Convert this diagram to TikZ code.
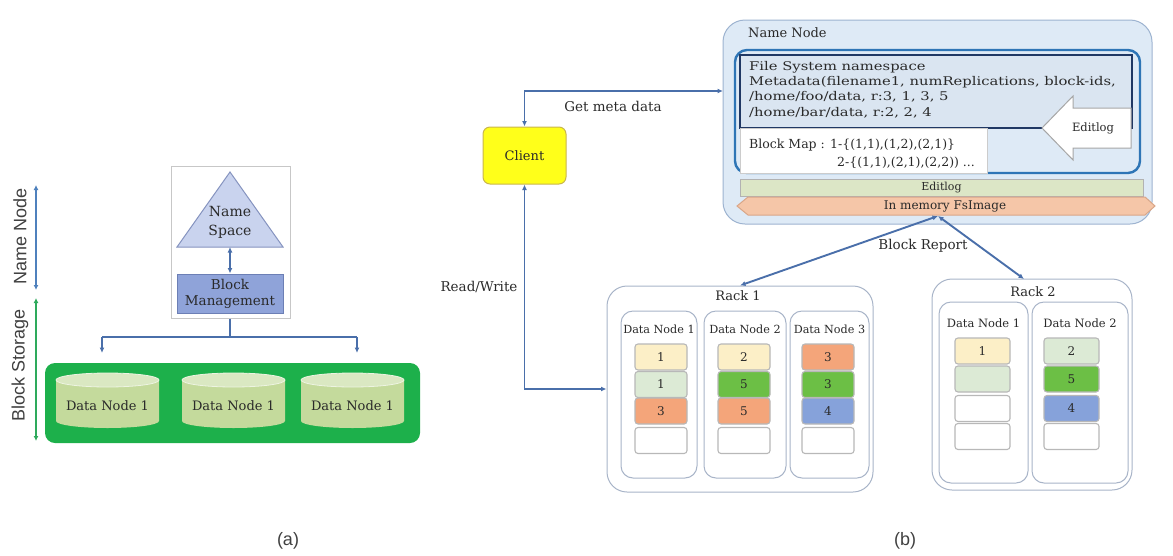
\documentclass[tikz,border=0pt]{standalone}
\usepackage{fontspec}
\setmainfont{DejaVu Serif}
\setsansfont{Liberation Sans}
\newfontfamily\widefont{DejaVu Serif}[FakeStretch=1.23]
\usetikzlibrary{arrows.meta,calc}

\definecolor{connblue}{HTML}{4A6FAA}
\definecolor{axisblue}{HTML}{4F81BD}
\definecolor{axisgreen}{HTML}{2EAA5C}
\definecolor{storegreen}{HTML}{1DB04B}
\definecolor{cylbody}{HTML}{C4DA9C}
\definecolor{cyltop}{HTML}{DAE8C2}
\definecolor{trifill}{HTML}{C9D3EE}
\definecolor{triedge}{HTML}{8593BF}
\definecolor{bmfill}{HTML}{8FA3D9}
\definecolor{bmedge}{HTML}{6C7FB5}
\definecolor{nnfill}{HTML}{DEEAF6}
\definecolor{nnedge}{HTML}{9DB3D0}
\definecolor{framebl}{HTML}{2E75B6}
\definecolor{fsnavy}{HTML}{203864}
\definecolor{fsfill}{HTML}{DAE5F1}
\definecolor{elogfill}{HTML}{DCE6C6}
\definecolor{imgfill}{HTML}{F5C6A8}
\definecolor{imgedge}{HTML}{D9A688}
\definecolor{clientyel}{HTML}{FFFF1A}
\definecolor{clientedge}{HTML}{C9B64C}
\definecolor{rackedge}{HTML}{A8B4C8}
\definecolor{inkgray}{HTML}{2A2A2A}
\definecolor{cYel}{HTML}{FCEFC7}
\definecolor{cLgr}{HTML}{DCEAD5}
\definecolor{cOrg}{HTML}{F4A57A}
\definecolor{cGrn}{HTML}{6CBF45}
\definecolor{cBlu}{HTML}{86A2DA}

\tikzset{
  every node/.style={text=inkgray},
  conn/.style={draw=connblue, line width=1.9pt,
    arrows={-}, >={Latex[length=5.5pt,width=5pt]}},
  txt/.style={inner sep=0pt, font=\fontsize{13.5}{15}\selectfont},
  axislbl/.style={inner sep=0pt, rotate=90, font=\sffamily\fontsize{18}{20}\selectfont, text=black!75},
  cyltext/.style={inner sep=0pt, font=\fontsize{13}{15}\selectfont},
  rackbox/.style={draw=rackedge, line width=1pt, rounded corners=20pt, fill=white},
  dnbox/.style={draw=rackedge, line width=1pt, rounded corners=12pt, fill=white},
  blk/.style={draw=black!28, line width=1.1pt, rounded corners=3pt,
    minimum width=#1, minimum height=26pt, inner sep=0pt,
    font=\fontsize{12}{14}\selectfont},
  blk/.default=52pt,
}

\begin{document}
\begin{tikzpicture}[x=1pt,y=-1pt]
\useasboundingbox (0,0) rectangle (1173,555);

% ---------------- (a) layered view ----------------
% side axes
\draw[draw=axisblue, line width=1.8pt, {Latex[length=5pt,width=5pt]}-{Latex[length=5pt,width=5pt]}]
  (36,185) -- (36,290);
\draw[draw=axisgreen, line width=1.8pt, {Latex[length=5pt,width=5pt]}-{Latex[length=5pt,width=5pt]}]
  (36,298) -- (36,441);
\node[axislbl] (lblnn) at (20,236) {Name Node};
\node[axislbl] (lblbs) at (20,365) {Block Storage};

% name node frame with namespace and block management
\node[draw=black!22, line width=1pt, fill=white, minimum width=119pt, minimum height=152pt,
  inner sep=0pt] (nsbox) at (231,242) {};
\path[draw=triedge, line width=1pt, fill=trifill] (230,172) -- (283,247) -- (177,247) -- cycle;
\coordinate (tribase) at (230,247);
\node[inner sep=0pt, align=center, font=\fontsize{14}{19}\selectfont] (nstext) at (230,222) {Name\\Space};
\node[draw=bmedge, line width=1pt, fill=bmfill, minimum width=106pt, minimum height=39pt,
  inner sep=0pt, align=center, font=\fontsize{13.5}{16}\selectfont] (bm) at (230,293.5)
  {Block\\Management};
\draw[conn, <->] (tribase) -- (bm.north);

% fan-out to the storage layer
\coordinate (split) at (230,337);
\coordinate (fanl) at (102,337);
\coordinate (fanr) at (357,337);
\coordinate (tipl) at (102,353);
\coordinate (tipr) at (357,353);
\draw[conn] (nsbox.south -| split) -- (split);
\draw[conn] (fanl) -- (fanr);
\draw[conn, ->] (fanl) -- (tipl);
\draw[conn, ->] (fanr) -- (tipr);

% storage layer
\node[fill=storegreen, rounded corners=10pt, minimum width=375pt, minimum height=80pt,
  inner sep=0pt] (store) at (232.5,403) {};
\foreach \cx/\nm in {107.5/cylA, 233.5/cylB, 352.5/cylC}{
  \fill[cylbody] (\cx-51.5,380) -- (\cx-51.5,421)
    arc[start angle=180, end angle=0, x radius=51.5, y radius=7] -- (\cx+51.5,380) -- cycle;
  \fill[cyltop] (\cx,380) ellipse[x radius=51.5, y radius=7];
  \draw[white!70!cylbody, line width=0.8pt] (\cx,380) ellipse[x radius=51.5, y radius=7];
  \node[cyltext] (\nm) at (\cx,406) {Data Node 1};
}

\node[inner sep=0pt, font=\sffamily\fontsize{18}{20}\selectfont, text=black!75] (capa) at (288,541) {(a)};

% ---------------- (b) HDFS architecture ----------------
% name node
\node[draw=nnedge, line width=1pt, fill=nnfill, rounded corners=22pt,
  minimum width=429pt, minimum height=204pt, inner sep=0pt] (nn) at (937.5,122) {};
\node[inner sep=0pt, anchor=west, font=\fontsize{13}{15}\selectfont] (nntitle) at (748,33) {Name Node};

\node[draw=framebl, line width=2.4pt, fill=nnfill, rounded corners=12pt,
  minimum width=405pt, minimum height=123pt, inner sep=0pt] (fsframe) at (937.5,111.5) {};
\node[draw=fsnavy, line width=1.3pt, fill=fsfill, minimum width=392pt, minimum height=73pt,
  inner sep=0pt] (fsbox) at (936,91.5) {};
\node[inner sep=0pt, anchor=north west, align=left, font=\widefont\fontsize{12}{15.3}\selectfont]
  (fstext) at (749,61)
  {File System namespace\\
   Metadata(filename1, numReplications, block-ids,\\
   /home/foo/data, r:3, 1, 3, 5\\
   /home/bar/data, r:2, 2, 4};
\node[draw=black!20, line width=0.8pt, fill=white, minimum width=247pt, minimum height=45pt,
  inner sep=0pt] (bmap) at (863.5,150.5) {};
\node[inner sep=0pt, anchor=west, font=\fontsize{12.5}{15}\selectfont] (bmapa) at (749,145)
  {Block Map : 1-\{(1,1),(1,2),(2,1)\}};
\node[inner sep=0pt, anchor=west, font=\fontsize{12.5}{15}\selectfont] (bmapb) at (837,163)
  {2-\{(1,1),(2,1),(2,2)) ...};

% incoming edit log arrow
\path[draw=black!35, line width=1pt, fill=white]
  (1042,128) -- (1073,96) -- (1073,108) -- (1131,108) -- (1131,148)
  -- (1073,148) -- (1073,160) -- cycle;
\node[inner sep=0pt, font=\fontsize{11.5}{13}\selectfont] (elogin) at (1093,128) {Editlog};

% edit log and fsimage bars
\node[draw=black!30, line width=1pt, fill=elogfill, minimum width=403pt, minimum height=17pt,
  inner sep=0pt, font=\fontsize{11}{13}\selectfont] (elog) at (941.5,188) {Editlog};
\path[draw=imgedge, line width=1pt, fill=imgfill]
  (737,206) -- (748,197) -- (1145,197) -- (1155,206) -- (1145,215) -- (748,215) -- cycle;
\node[inner sep=0pt, font=\fontsize{12}{13}\selectfont] (fsimg) at (945,206) {In memory FsImage};
\coordinate (brtop) at (938,216);

% client
\node[draw=clientedge, line width=1pt, fill=clientyel, rounded corners=7pt,
  minimum width=83pt, minimum height=57pt, inner sep=0pt, font=\fontsize{13}{15}\selectfont]
  (client) at (524.5,155.5) {Client};
\coordinate (nnin) at (723,91);
\draw[conn, <->] (client.north) |- (nnin);
\node[txt] (lblget) at (613,106) {Get meta data};

% rack 1
\node[rackbox, minimum width=266pt, minimum height=206pt, inner sep=0pt] (rack1) at (740,389) {};
\node[inner sep=0pt, font=\fontsize{13}{15}\selectfont] (rack1t) at (738,296) {Rack 1};
\foreach \cx/\w/\nm/\lab in {659/76/dnA/1, 745/82/dnB/2, 829.5/79/dnC/3}{
  \node[dnbox, minimum width=\w pt, minimum height=167pt, inner sep=0pt] (\nm) at (\cx,394.5) {};
  \node[inner sep=0pt, font=\fontsize{11.2}{13}\selectfont] (\nm t) at (\cx,329) {Data Node \lab};
}
% rack 1 blocks
\node[blk, fill=cYel] (a1) at (661,357) {1};
\node[blk, fill=cLgr] (a2) at (661,384.5) {1};
\node[blk, fill=cOrg] (a3) at (661,411) {3};
\node[blk, fill=white] (a4) at (661,440.5) {};
\node[blk, fill=cYel] (b1) at (744,357) {2};
\node[blk, fill=cGrn] (b2) at (744,384.5) {5};
\node[blk, fill=cOrg] (b3) at (744,411) {5};
\node[blk, fill=white] (b4) at (744,440.5) {};
\node[blk, fill=cOrg] (c1) at (828,357) {3};
\node[blk, fill=cGrn] (c2) at (828,384.5) {3};
\node[blk, fill=cBlu] (c3) at (828,411) {4};
\node[blk, fill=white] (c4) at (828,440.5) {};

% rack 2
\node[rackbox, minimum width=200pt, minimum height=211pt, inner sep=0pt] (rack2) at (1032,384.5) {};
\node[inner sep=0pt, font=\fontsize{13}{15}\selectfont] (rack2t) at (1033,292) {Rack 2};
\foreach \cx/\w/\nm/\lab in {983.5/89/dnD/1, 1080/96/dnE/2}{
  \node[dnbox, minimum width=\w pt, minimum height=181pt, inner sep=0pt] (\nm) at (\cx,392.5) {};
  \node[inner sep=0pt, font=\fontsize{11.5}{13}\selectfont] (\nm t) at (\cx,323) {Data Node \lab};
}
\node[blk=55pt, fill=cYel] (d1) at (982.5,351) {1};
\node[blk=55pt, fill=cLgr] (d2) at (982.5,379) {};
\node[blk=55pt, fill=white] (d3) at (982.5,408.5) {};
\node[blk=55pt, fill=white] (d4) at (982.5,436.5) {};
\node[blk=55pt, fill=cLgr] (e1) at (1071.5,351) {2};
\node[blk=55pt, fill=cGrn] (e2) at (1071.5,379) {5};
\node[blk=55pt, fill=cBlu] (e3) at (1071.5,408.5) {4};
\node[blk=55pt, fill=white] (e4) at (1071.5,436.5) {};

% client to rack 1, and block reports
\draw[conn, <->] (client.south) |- (rack1.west);
\node[txt] (lblrw) at (479,287) {Read/Write};
\coordinate (r2in) at (1024,279);
\draw[conn, <->] (brtop) -- (rack1.north);
\draw[conn, <->] (brtop) -- (r2in);
\node[txt] (lblbr) at (923,246) {Block Report};

\node[inner sep=0pt, font=\sffamily\fontsize{18}{20}\selectfont, text=black!75] (capb) at (905,541) {(b)};
\end{tikzpicture}
\end{document}
